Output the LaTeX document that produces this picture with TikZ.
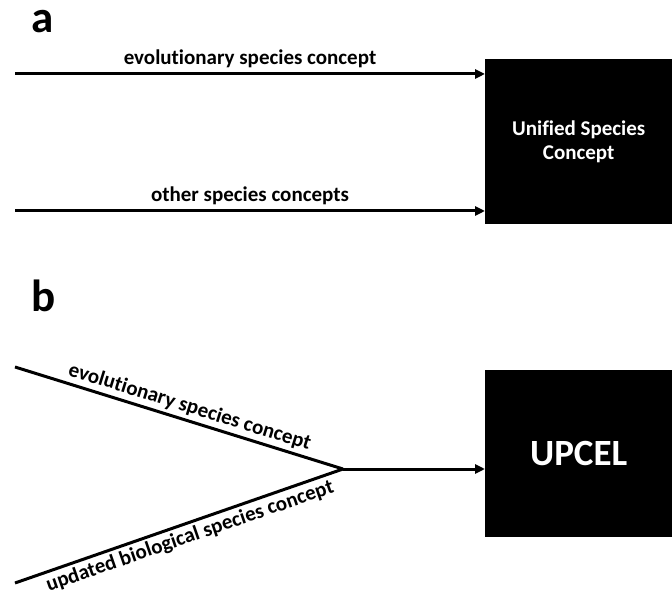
\documentclass[tikz,border=0pt]{standalone}
\usepackage{fontspec}
\setmainfont{Carlito}[Ligatures=NoCommon]
\usetikzlibrary{arrows.meta}

\begin{document}
\begin{tikzpicture}[x=1pt,y=-1pt,
  conc/.style={line width=3pt},
  tip/.style={-{Triangle[length=10pt,width=9pt]}},
  lbl/.style={font=\bfseries\fontsize{21}{24}\selectfont, inner sep=0pt},
  panel/.style={font=\bfseries\fontsize{45}{45}\selectfont, inner sep=0pt},
  blackbox/.style={fill=black, text=white, align=center, inner sep=0pt, anchor=north west, minimum width=187pt}]

\useasboundingbox (0,0) rectangle (672,601);

% panel a
\node (la) at (43,22) [panel] {a};
\node (usc) at (485,59) [blackbox, minimum height=165pt, font=\bfseries\fontsize{21}{24}\selectfont] {Unified Species\\Concept};
\coordinate (e1) at (15,74);
\coordinate (o1) at (15,211);
\draw [conc, tip] (e1) -- (e1 -| usc.west) node [midway, above=5pt, lbl] {evolutionary species concept};
\draw [conc, tip] (o1) -- (o1 -| usc.west) node [midway, above=5pt, lbl] {other species concepts};

% panel b
\node (lb) at (44,296) [panel] {b};
\node (upcel) at (485,370) [blackbox, minimum height=167pt, font=\bfseries\fontsize{37}{40}\selectfont] {UPCEL};
\coordinate (u) at (15,367);
\coordinate (d) at (15,583);
\coordinate (j) at (343,469);
\draw [conc] (u) -- (j) node [pos=0.52, sloped, above=3pt, lbl] {evolutionary species concept};
\draw [conc] (d) -- (j) node [pos=0.52, sloped, below=3pt, lbl] {updated biological species concept};
\draw [conc, tip] (j) -- (j -| upcel.west);
\end{tikzpicture}
\end{document}
